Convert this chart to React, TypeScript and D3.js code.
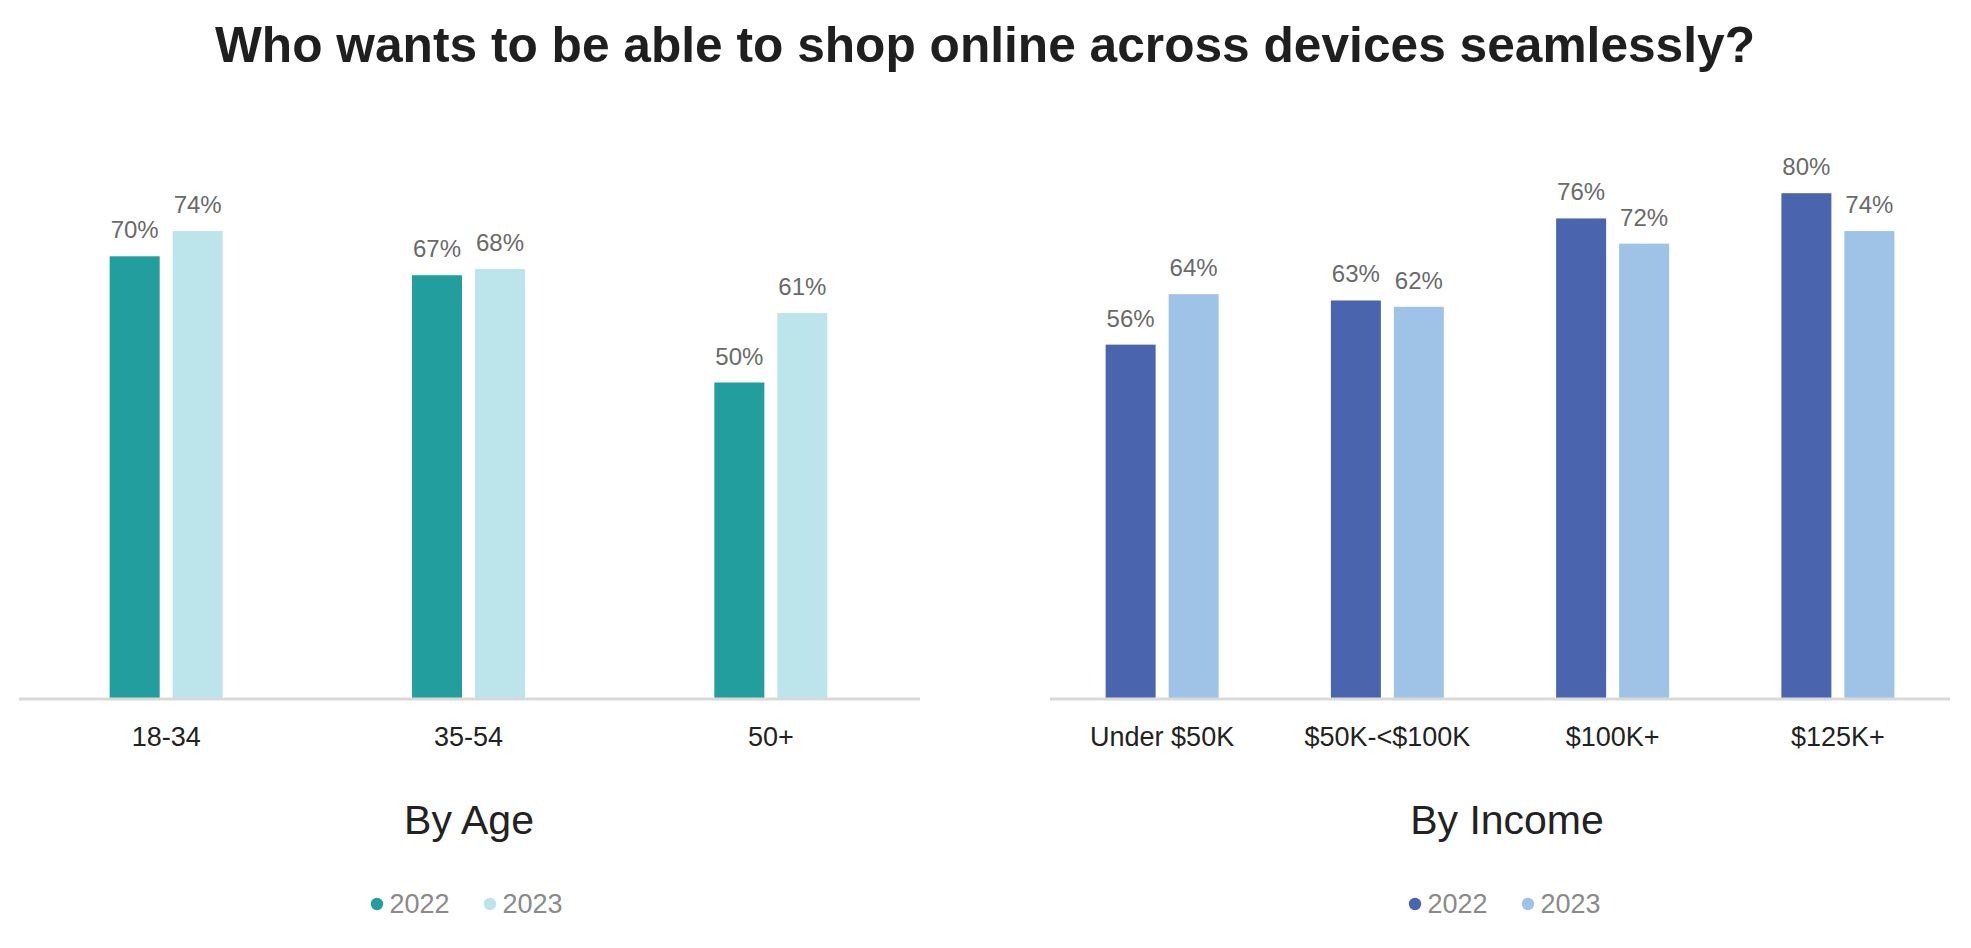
import React from "react";
import * as d3 from "d3";

const TITLE = "Who wants to be able to shop online across devices seamlessly?";
const years = ["2022", "2023"];

const ageCategories = ["18-34", "35-54", "50+"];
const age2022 = [70, 67, 50];
const age2023 = [74, 68, 61];

const incomeCategories = ["Under $50K", "$50K-<$100K", "$100K+", "$125K+"];
const income2022 = [56, 63, 76, 80];
const income2023 = [64, 62, 72, 74];

const W = 1971;
const H = 948;
const FONT = "'Liberation Sans', Arial, Helvetica, sans-serif";

const y = d3.scaleLinear().domain([0, 100]).range([698, 67]);

type PanelProps = {
  title: string;
  categories: string[];
  series: number[][];
  colors: string[];
  groupRange: [number, number];
  axisRange: [number, number];
  titleCenter: number;
};

function Panel({ title, categories, series, colors, groupRange, axisRange, titleCenter }: PanelProps) {
  const x = d3.scaleBand<string>().domain(categories).range(groupRange).paddingInner(0).paddingOuter(0);
  const inner = d3.scaleBand<string>().domain(years).range([-56.5, 56.5]).paddingInner(13 / 63);
  const legendStart = titleCenter - 98;
  return (
    <g>
      {categories.map((c, i) => {
        const cx = (x(c) as number) + x.bandwidth() / 2;
        return (
          <g key={c}>
            {years.map((yr, s) => {
              const v = series[s][i];
              const bx = cx + (inner(yr) as number);
              return (
                <g key={yr}>
                  <rect x={bx} y={y(v)} width={inner.bandwidth()} height={y(0) - y(v)} fill={colors[s]} />
                  <text
                    x={bx + inner.bandwidth() / 2}
                    y={y(v) - 18}
                    textAnchor="middle"
                    fontFamily={FONT}
                    fontSize={24}
                    fill="#6a6a6a"
                  >
                    {v}%
                  </text>
                </g>
              );
            })}
            <text x={cx} y={746} textAnchor="middle" fontFamily={FONT} fontSize={27} fill="#222">
              {c}
            </text>
          </g>
        );
      })}
      <line x1={axisRange[0]} x2={axisRange[1]} y1={699} y2={699} stroke="#d9d9d9" strokeWidth={3} />
      <text x={titleCenter} y={834} textAnchor="middle" fontFamily={FONT} fontSize={41} fill="#222">
        {title}
      </text>
      {years.map((yr, s) => {
        const dx = legendStart + 6 + s * 113;
        return (
          <g key={yr}>
            <circle cx={dx} cy={904} r={6.2} fill={colors[s]} />
            <text x={dx + 12.5} y={913} fontFamily={FONT} fontSize={27} fill="#8a8a8a">
              {yr}
            </text>
          </g>
        );
      })}
    </g>
  );
}

export default function App() {
  return (
    <svg
      width={W}
      height={H}
      viewBox={`0 0 ${W} ${H}`}
      style={{ position: "absolute", left: 0, top: 0, background: "#fff" }}
    >
      <rect width={W} height={H} fill="#fff" />
      <text
        x={985}
        y={62}
        textAnchor="middle"
        fontFamily={FONT}
        fontWeight="bold"
        fontSize={50}
        fill="#1f1f1f"
        textLength={1540}
        lengthAdjust="spacingAndGlyphs"
      >
        {TITLE}
      </text>
      <Panel
        title="By Age"
        categories={ageCategories}
        series={[age2022, age2023]}
        colors={["#239e9f", "#bbe5ea"]}
        groupRange={[15, 922]}
        axisRange={[19, 920]}
        titleCenter={469}
      />
      <Panel
        title="By Income"
        categories={incomeCategories}
        series={[income2022, income2023]}
        colors={["#4a64ae", "#9fc3e7"]}
        groupRange={[1049.5, 1950.5]}
        axisRange={[1050, 1950]}
        titleCenter={1507}
      />
    </svg>
  );
}
